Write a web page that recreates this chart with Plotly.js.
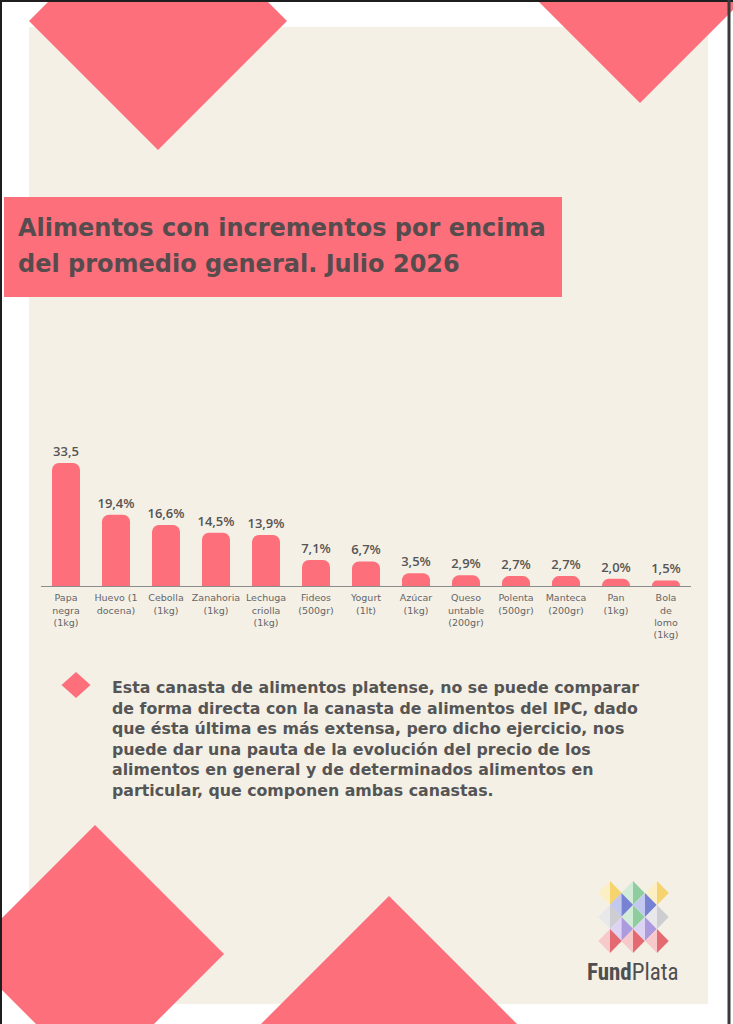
<!DOCTYPE html>
<html>
<head>
<meta charset="utf-8">
<script src="https://cdn.plot.ly/plotly-3.0.1.min.js"></script>
<style>
  html, body { margin: 0; padding: 0; background: #ffffff; }
  #chart { width: 733px; height: 1024px; }
</style>
</head>
<body>
<div id="chart"></div>
<script>
// ---- Data ----
const categories = [
  "Papa<br>negra<br>(1kg)", "Huevo (1<br>docena)", "Cebolla<br>(1kg)", "Zanahoria<br>(1kg)",
  "Lechuga<br>criolla<br>(1kg)", "Fideos<br>(500gr)", "Yogurt<br>(1lt)", "Azúcar<br>(1kg)",
  "Queso<br>untable<br>(200gr)", "Polenta<br>(500gr)", "Manteca<br>(200gr)", "Pan<br>(1kg)",
  "Bola<br>de<br>lomo<br>(1kg)"
];
const values = [33.5, 19.4, 16.6, 14.5, 13.9, 7.1, 6.7, 3.5, 2.9, 2.7, 2.7, 2.0, 1.5];
const valueLabels = ["33,5", "19,4%", "16,6%", "14,5%", "13,9%", "7,1%", "6,7%", "3,5%", "2,9%", "2,7%", "2,7%", "2,0%", "1,5%"];

const titleLines = ["Alimentos con incrementos por encima", "del promedio general. Julio 2026"];
const bodyLines = [
  "Esta canasta de alimentos platense, no se puede comparar",
  "de forma directa con la canasta de alimentos del IPC, dado",
  "que ésta última es más extensa, pero dicho ejercicio, nos",
  "puede dar una pauta de la evolución del precio de los",
  "alimentos en general y de determinados alimentos en",
  "particular, que componen ambas canastas."
];

// ---- Page geometry (pixels) ----
const PW = 733, PH = 1024;
const M = { l: 41, r: 42, t: 439, b: 438 };
const plotW = PW - M.l - M.r, plotH = PH - M.t - M.b;
const px = x => (x - M.l) / plotW;
const py = y => (PH - M.b - y) / plotH;

const PINK = "#fe6f7c";
const BEIGE = "#f4f0e6";
const DARK = "#564c4d";
const GRAY = "#555555";

function diamondPath(cx, cy, hw, hh) {
  return "M" + px(cx) + "," + py(cy - hh) +
         " L" + px(cx + hw) + "," + py(cy) +
         " L" + px(cx) + "," + py(cy + hh) +
         " L" + px(cx - hw) + "," + py(cy) + " Z";
}
function halfPath(cx, cy, hw, hh, side) {
  const sx = side === "left" ? cx - hw : cx + hw;
  return "M" + px(cx) + "," + py(cy - hh) +
         " L" + px(sx) + "," + py(cy) +
         " L" + px(cx) + "," + py(cy + hh) + " Z";
}
function rectShape(x0, y0, x1, y1, color, layer) {
  return { type: "rect", xref: "paper", yref: "paper", layer: layer || "below",
    x0: px(x0), x1: px(x1), y0: py(y1), y1: py(y0),
    fillcolor: color, line: { width: 0 } };
}
function pathShape(path, color, layer) {
  return { type: "path", xref: "paper", yref: "paper", layer: layer || "below",
    path: path, fillcolor: color, line: { width: 0 } };
}

const shapes = [];
// beige page
shapes.push(rectShape(29, 27, 708, 1004, BEIGE));
// decorative diamonds
const D = 129;
[[158, 21], [640, -26], [95, 954], [389, 1025]].forEach(c => {
  shapes.push(pathShape(diamondPath(c[0], c[1], D, D), PINK));
});
// title box
shapes.push(rectShape(4, 197, 562, 297, PINK));
// bullet
shapes.push(pathShape(diamondPath(76, 685, 14.5, 13), PINK));

// logo lattice
const logo = [
  [610, 893, "#fcefc4", "#f5d36e"], [633, 893, "#d3ecd7", "#8fcd9f"], [657, 893, "#fcefc4", "#f5d36e"],
  [621.5, 905, "#c3c9ee", "#7782d3"], [645, 905, "#c3c9ee", "#7782d3"],
  [610, 917, "#e8e8eb", "#cdcdd2"], [633, 917, "#d3ecd7", "#8fcd9f"], [657, 917, "#e8e8eb", "#cdcdd2"],
  [621.5, 929, "#ddd4f3", "#ad9ade"], [645, 929, "#ddd4f3", "#ad9ade"],
  [610, 941, "#f8c9cb", "#e46a72"], [633, 941, "#f8c9cb", "#e46a72"], [657, 941, "#f8c9cb", "#e46a72"]
];
logo.forEach(d => {
  shapes.push(pathShape(halfPath(d[0], d[1], 11.75, 12, "left"), d[2], "above"));
  shapes.push(pathShape(halfPath(d[0], d[1], 11.75, 12, "right"), d[3], "above"));
});

// page frame
const frame = { color: "#1e1e1e", width: 2 };
shapes.push({ type: "line", xref: "paper", yref: "paper", layer: "above",
  x0: px(1), x1: px(1), y0: py(0), y1: py(1024), line: frame });
shapes.push({ type: "line", xref: "paper", yref: "paper", layer: "above",
  x0: px(0), x1: px(733), y0: py(1), y1: py(1), line: frame });
shapes.push({ type: "line", xref: "paper", yref: "paper", layer: "above",
  x0: px(729), x1: px(729), y0: py(0), y1: py(1024), line: { color: "#3a3a3a", width: 3 } });

// ---- Annotations ----
const annotations = [];
const titleY = [228, 264];
titleLines.forEach((t, i) => {
  annotations.push({ xref: "paper", yref: "paper", x: px(16), y: py(titleY[i]),
    xanchor: "left", yanchor: "middle", showarrow: false, align: "left", text: t,
    font: { family: "DejaVu Sans, Liberation Sans, sans-serif", size: 24, weight: 700, color: DARK } });
});
annotations.push({ xref: "paper", yref: "paper", x: px(110), y: py(739),
  xanchor: "left", yanchor: "middle", showarrow: false, align: "left",
  text: bodyLines.join("<br>"),
  font: { family: "DejaVu Sans, Open Sans, sans-serif", size: 15.8, weight: 700, color: GRAY } });
annotations.push({ xref: "paper", yref: "paper", x: px(633), y: py(972),
  xanchor: "center", yanchor: "middle", showarrow: false,
  text: "<b>Fund</b>Plata",
  font: { family: "Liberation Sans Narrow, Roboto Condensed, Arial Narrow, sans-serif", size: 23, color: "#4f4f4f" } });

// ---- Bars ----
const bars = {
  type: "bar", x: categories, y: values,
  width: 0.56, marker: { color: PINK, line: { width: 0 } },
  text: valueLabels, textposition: "outside", constraintext: "none", cliponaxis: false,
  textfont: { family: "Open Sans, Noto Sans, sans-serif", size: 13, weight: 600, color: GRAY },
  hoverinfo: "skip", showlegend: false
};

const layout = {
  width: PW, height: PH,
  margin: M,
  paper_bgcolor: "#ffffff",
  plot_bgcolor: "rgba(0,0,0,0)",
  barcornerradius: 7,
  showlegend: false,
  xaxis: {
    type: "category", showline: true, linecolor: "#8c8c8c", linewidth: 1,
    ticks: "", showgrid: false, zeroline: false, fixedrange: true, ticklabelstandoff: 3,
    tickfont: { family: "DejaVu Sans, Open Sans, sans-serif", size: 9.5, color: "#666666" }
  },
  yaxis: { visible: false, range: [0, 40], fixedrange: true, showgrid: false, zeroline: false },
  shapes: shapes,
  annotations: annotations
};

Plotly.newPlot("chart", [bars], layout, { displayModeBar: false, staticPlot: true });
</script>
</body>
</html>
